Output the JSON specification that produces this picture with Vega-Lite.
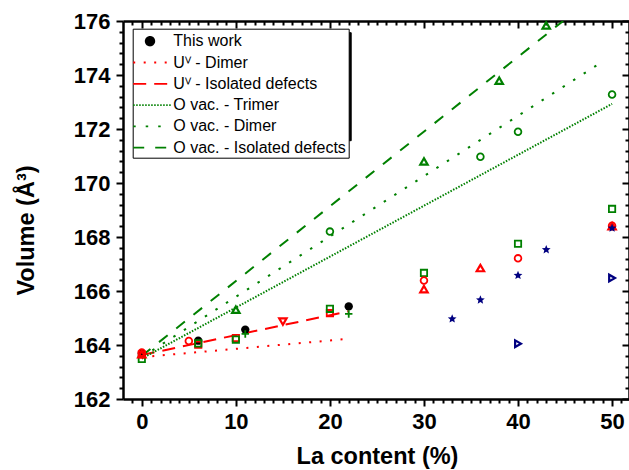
{
  "$schema": "https://vega.github.io/schema/vega-lite/v6.json",
  "width": 506,
  "height": 378,
  "autosize": {"type": "none"},
  "padding": {"left": 123, "top": 21, "right": 0, "bottom": 71},
  "background": "white",
  "config": {
    "font": "Liberation Sans",
    "view": {"stroke": null},
    "point": {"opacity": 1, "strokeWidth": 1.8},
    "line": {"strokeWidth": 2},
    "axis": {
      "grid": false, "domainColor": "black", "tickColor": "black", "domainWidth": 2.5, "tickWidth": 2,
      "labelFont": "Liberation Sans", "labelFontWeight": "bold", "labelFontSize": 22, "labelColor": "black",
      "titleFont": "Liberation Sans", "titleFontWeight": "bold", "titleFontSize": 23.5, "titleColor": "black",
      "labelFlush": false, "labelOverlap": false
    }
  },
  "datasets": {
    "lines": [
      {"series": "Uⱽ - Dimer", "x": 0, "y": 163.55},
      {"series": "Uⱽ - Dimer", "x": 21.7, "y": 164.22},
      {"series": "Uⱽ - Isolated defects", "x": 0, "y": 163.63},
      {"series": "Uⱽ - Isolated defects", "x": 22, "y": 165.25},
      {"series": "O vac. - Trimer", "x": 0, "y": 163.5},
      {"series": "O vac. - Trimer", "x": 50, "y": 172.93},
      {"series": "O vac. - Dimer", "x": 0, "y": 163.55},
      {"series": "O vac. - Dimer", "x": 49, "y": 174.5},
      {"series": "O vac. - Isolated defects", "x": 0, "y": 163.6},
      {"series": "O vac. - Isolated defects", "x": 44.8, "y": 176}
    ],
    "legendrows": [
      {"series": "This work"},
      {"series": "Uⱽ - Dimer"},
      {"series": "Uⱽ - Isolated defects"},
      {"series": "O vac. - Trimer"},
      {"series": "O vac. - Dimer"},
      {"series": "O vac. - Isolated defects"}
    ],
    "points": [
      {"s": "work", "x": 0, "y": 163.68},
      {"s": "work", "x": 6, "y": 164.16},
      {"s": "work", "x": 11, "y": 164.57},
      {"s": "work", "x": 22, "y": 165.43},
      {"s": "rs", "x": 0, "y": 163.65},
      {"s": "rs", "x": 6, "y": 164.01},
      {"s": "rs", "x": 10, "y": 164.26},
      {"s": "rs", "x": 20, "y": 165.18},
      {"s": "gs", "x": 0, "y": 163.48},
      {"s": "gs", "x": 6, "y": 164.06},
      {"s": "gs", "x": 10, "y": 164.2},
      {"s": "gs", "x": 20, "y": 165.34},
      {"s": "gs", "x": 30, "y": 166.67},
      {"s": "gs", "x": 40, "y": 167.75},
      {"s": "gs", "x": 50, "y": 169.04},
      {"s": "rc", "x": 0, "y": 163.72},
      {"s": "rc", "x": 5, "y": 164.15},
      {"s": "rc", "x": 30, "y": 166.39},
      {"s": "rc", "x": 40, "y": 167.21},
      {"s": "rc", "x": 50, "y": 168.42},
      {"s": "rt", "x": 0, "y": 163.66},
      {"s": "rt", "x": 30, "y": 166.07},
      {"s": "rt", "x": 36, "y": 166.85},
      {"s": "rt", "x": 50, "y": 168.4},
      {"s": "rd", "x": 15, "y": 164.87},
      {"s": "gp", "x": 11, "y": 164.41},
      {"s": "gp", "x": 22, "y": 165.15},
      {"s": "gt", "x": 10, "y": 165.31},
      {"s": "gt", "x": 30, "y": 170.8},
      {"s": "gt", "x": 38, "y": 173.79},
      {"s": "gt", "x": 43, "y": 175.84},
      {"s": "gc", "x": 20, "y": 168.2},
      {"s": "gc", "x": 36, "y": 170.97},
      {"s": "gc", "x": 40, "y": 171.9},
      {"s": "gc", "x": 50, "y": 173.28},
      {"s": "bs", "x": 33, "y": 164.97},
      {"s": "bs", "x": 36, "y": 165.67},
      {"s": "bs", "x": 40, "y": 166.58},
      {"s": "bs", "x": 43, "y": 167.53},
      {"s": "bs", "x": 50, "y": 168.33},
      {"s": "br", "x": 40, "y": 164.05},
      {"s": "br", "x": 50, "y": 166.48}
    ],
    "shadow": [
      {"k": "0"}, {"k": "1"}, {"k": "2"}, {"k": "3"}, {"k": "4"}, {"k": "5"}
    ]
  },
  "resolve": {"axis": {"x": "independent", "y": "independent"}},
  "layer": [
    {
      "data": {"name": "shadow"},
      "mark": {"type": "point", "opacity": 0},
      "encoding": {
        "opacity": {
          "field": "k", "type": "nominal",
          "scale": {"type": "ordinal", "domain": ["0", "1", "2", "3", "4", "5"], "range": [0, 0, 0, 0, 0, 0]},
          "legend": {
            "orient": "none", "legendX": 13.7, "legendY": 11.2, "title": null, "padding": 2, "rowPadding": 2.3,
            "fillColor": "black", "strokeColor": "black", "symbolType": "M-1,-1H21V0.779H-1Z", "symbolSize": 361,
            "symbolStrokeWidth": 2, "symbolOpacity": 0, "labelFont": "Liberation Sans", "labelFontSize": 16,
            "labelColor": "transparent", "labelOffset": 0, "labelLimit": 300,
            "labelExpr": "''"
          }
        }
      }
    },
    {
      "data": {"name": "lines"},
      "mark": {"type": "point", "opacity": 0},
      "encoding": {
        "x": {
          "field": "x", "type": "quantitative",
          "scale": {"domain": [-2, 51.8], "nice": false, "zero": false},
          "axis": {"orient": "bottom", "values": [0, 10, 20, 30, 40, 50], "tickSize": 7, "labelPadding": 5,
                   "title": "La content (%)", "titleY": 64, "titleBaseline": "alphabetic", "titleX": 254}
        },
        "y": {
          "field": "y", "type": "quantitative",
          "scale": {"domain": [162, 176], "nice": false, "zero": false},
          "axis": {"orient": "left", "values": [162, 164, 166, 168, 170, 172, 174, 176], "tickSize": 7, "labelPadding": 6,
                   "title": "Volume (Å³)", "titleAngle": 270, "titleX": -89.5, "titleY": 209,
                   "titleAlign": "center", "titleBaseline": "alphabetic"}
        }
      }
    },
    {
      "data": {"name": "lines"},
      "mark": {"type": "point", "opacity": 0},
      "encoding": {
        "x": {
          "field": "x", "type": "quantitative",
          "scale": {"domain": [-2, 51.8], "nice": false, "zero": false},
          "axis": {"orient": "bottom", "values": [-1, 1, 2, 3, 4, 5, 6, 7, 8, 9, 11, 12, 13, 14, 15, 16, 17, 18, 19, 21, 22, 23, 24, 25, 26, 27, 28, 29, 31, 32, 33, 34, 35, 36, 37, 38, 39, 41, 42, 43, 44, 45, 46, 47, 48, 49, 51],
                   "tickSize": 4, "labels": false, "domain": false, "title": null}
        },
        "y": {
          "field": "y", "type": "quantitative",
          "scale": {"domain": [162, 176], "nice": false, "zero": false},
          "axis": {"orient": "left", "values": [162.4, 162.8, 163.2, 163.6, 164.4, 164.8, 165.2, 165.6, 166.4, 166.8, 167.2, 167.6, 168.4, 168.8, 169.2, 169.6, 170.4, 170.8, 171.2, 171.6, 172.4, 172.8, 173.2, 173.6, 174.4, 174.8, 175.2, 175.6],
                   "tickSize": 4, "labels": false, "domain": false, "title": null}
        }
      }
    },
    {
      "data": {"name": "lines"},
      "mark": {"type": "point", "opacity": 0},
      "encoding": {
        "x": {
          "field": "x", "type": "quantitative",
          "scale": {"domain": [-2, 51.8], "nice": false, "zero": false},
          "axis": {"orient": "top", "values": [0, 10, 20, 30, 40, 50], "tickSize": -7, "labels": false, "title": null}
        },
        "y": {
          "field": "y", "type": "quantitative",
          "scale": {"domain": [162, 176], "nice": false, "zero": false},
          "axis": {"orient": "right", "values": [162, 164, 166, 168, 170, 172, 174, 176], "tickSize": -7, "labels": false, "title": null}
        }
      }
    },
    {
      "data": {"name": "lines"},
      "mark": {"type": "point", "opacity": 0},
      "encoding": {
        "x": {
          "field": "x", "type": "quantitative",
          "scale": {"domain": [-2, 51.8], "nice": false, "zero": false},
          "axis": {"orient": "top", "values": [-1, 1, 2, 3, 4, 5, 6, 7, 8, 9, 11, 12, 13, 14, 15, 16, 17, 18, 19, 21, 22, 23, 24, 25, 26, 27, 28, 29, 31, 32, 33, 34, 35, 36, 37, 38, 39, 41, 42, 43, 44, 45, 46, 47, 48, 49, 51],
                   "tickSize": -4, "labels": false, "domain": false, "title": null}
        },
        "y": {
          "field": "y", "type": "quantitative",
          "scale": {"domain": [162, 176], "nice": false, "zero": false},
          "axis": {"orient": "right", "values": [162.4, 162.8, 163.2, 163.6, 164.4, 164.8, 165.2, 165.6, 166.4, 166.8, 167.2, 167.6, 168.4, 168.8, 169.2, 169.6, 170.4, 170.8, 171.2, 171.6, 172.4, 172.8, 173.2, 173.6, 174.4, 174.8, 175.2, 175.6],
                   "tickSize": -4, "labels": false, "domain": false, "title": null}
        }
      }
    },
    {
      "data": {"name": "lines"},
      "transform": [{"filter": "datum.series === 'Uⱽ - Dimer'"}],
      "mark": {"type": "line", "color": "#ff0000", "strokeDash": [2, 8.5], "clip": true},
      "encoding": {
        "x": {"field": "x", "type": "quantitative", "scale": {"domain": [-2, 51.8], "nice": false, "zero": false}, "axis": null},
        "y": {"field": "y", "type": "quantitative", "scale": {"domain": [162, 176], "nice": false, "zero": false}, "axis": null}
      }
    },
    {
      "data": {"name": "lines"},
      "transform": [{"filter": "datum.series === 'Uⱽ - Isolated defects'"}],
      "mark": {"type": "line", "color": "#ff0000", "strokeDash": [13, 8], "clip": true},
      "encoding": {
        "x": {"field": "x", "type": "quantitative", "scale": {"domain": [-2, 51.8], "nice": false, "zero": false}, "axis": null},
        "y": {"field": "y", "type": "quantitative", "scale": {"domain": [162, 176], "nice": false, "zero": false}, "axis": null}
      }
    },
    {
      "data": {"name": "lines"},
      "transform": [{"filter": "datum.series === 'O vac. - Trimer'"}],
      "mark": {"type": "line", "color": "#008000", "strokeDash": [1.5, 1.5], "clip": true},
      "encoding": {
        "x": {"field": "x", "type": "quantitative", "scale": {"domain": [-2, 51.8], "nice": false, "zero": false}, "axis": null},
        "y": {"field": "y", "type": "quantitative", "scale": {"domain": [162, 176], "nice": false, "zero": false}, "axis": null}
      }
    },
    {
      "data": {"name": "lines"},
      "transform": [{"filter": "datum.series === 'O vac. - Dimer'"}],
      "mark": {"type": "line", "color": "#008000", "strokeDash": [2.5, 10], "clip": true},
      "encoding": {
        "x": {"field": "x", "type": "quantitative", "scale": {"domain": [-2, 51.8], "nice": false, "zero": false}, "axis": null},
        "y": {"field": "y", "type": "quantitative", "scale": {"domain": [162, 176], "nice": false, "zero": false}, "axis": null}
      }
    },
    {
      "data": {"name": "lines"},
      "transform": [{"filter": "datum.series === 'O vac. - Isolated defects'"}],
      "mark": {"type": "line", "color": "#008000", "strokeDash": [11, 11], "clip": true},
      "encoding": {
        "x": {"field": "x", "type": "quantitative", "scale": {"domain": [-2, 51.8], "nice": false, "zero": false}, "axis": null},
        "y": {"field": "y", "type": "quantitative", "scale": {"domain": [162, 176], "nice": false, "zero": false}, "axis": null}
      }
    },
    {
      "data": {"name": "points"},
      "transform": [{"filter": "datum.s === 'work'"}],
      "mark": {"type": "point", "shape": "circle", "filled": true, "color": "black", "size": 70},
      "encoding": {
        "x": {"field": "x", "type": "quantitative", "scale": {"domain": [-2, 51.8], "nice": false, "zero": false}, "axis": null},
        "y": {"field": "y", "type": "quantitative", "scale": {"domain": [162, 176], "nice": false, "zero": false}, "axis": null}
      }
    },
    {
      "data": {"name": "points"},
      "transform": [{"filter": "datum.s === 'rs'"}],
      "mark": {"type": "point", "shape": "square", "filled": false, "color": "#ff0000", "size": 40},
      "encoding": {
        "x": {"field": "x", "type": "quantitative", "scale": {"domain": [-2, 51.8], "nice": false, "zero": false}, "axis": null},
        "y": {"field": "y", "type": "quantitative", "scale": {"domain": [162, 176], "nice": false, "zero": false}, "axis": null}
      }
    },
    {
      "data": {"name": "points"},
      "transform": [{"filter": "datum.s === 'gs'"}],
      "mark": {"type": "point", "shape": "square", "filled": false, "color": "#008000", "size": 40},
      "encoding": {
        "x": {"field": "x", "type": "quantitative", "scale": {"domain": [-2, 51.8], "nice": false, "zero": false}, "axis": null},
        "y": {"field": "y", "type": "quantitative", "scale": {"domain": [162, 176], "nice": false, "zero": false}, "axis": null}
      }
    },
    {
      "data": {"name": "points"},
      "transform": [{"filter": "datum.s === 'rc'"}],
      "mark": {"type": "point", "shape": "circle", "filled": false, "color": "#ff0000", "size": 45},
      "encoding": {
        "x": {"field": "x", "type": "quantitative", "scale": {"domain": [-2, 51.8], "nice": false, "zero": false}, "axis": null},
        "y": {"field": "y", "type": "quantitative", "scale": {"domain": [162, 176], "nice": false, "zero": false}, "axis": null}
      }
    },
    {
      "data": {"name": "points"},
      "transform": [{"filter": "datum.s === 'rt'"}],
      "mark": {"type": "point", "shape": "triangle-up", "filled": false, "color": "#ff0000", "size": 55, "strokeWidth": 2.2},
      "encoding": {
        "x": {"field": "x", "type": "quantitative", "scale": {"domain": [-2, 51.8], "nice": false, "zero": false}, "axis": null},
        "y": {"field": "y", "type": "quantitative", "scale": {"domain": [162, 176], "nice": false, "zero": false}, "axis": null}
      }
    },
    {
      "data": {"name": "points"},
      "transform": [{"filter": "datum.s === 'rd'"}],
      "mark": {"type": "point", "shape": "triangle-down", "filled": false, "color": "#ff0000", "size": 55, "strokeWidth": 2.2},
      "encoding": {
        "x": {"field": "x", "type": "quantitative", "scale": {"domain": [-2, 51.8], "nice": false, "zero": false}, "axis": null},
        "y": {"field": "y", "type": "quantitative", "scale": {"domain": [162, 176], "nice": false, "zero": false}, "axis": null}
      }
    },
    {
      "data": {"name": "points"},
      "transform": [{"filter": "datum.s === 'gp'"}],
      "mark": {"type": "point", "shape": "M-1,0H1M0,-1V1", "filled": false, "color": "#008000", "size": 55},
      "encoding": {
        "x": {"field": "x", "type": "quantitative", "scale": {"domain": [-2, 51.8], "nice": false, "zero": false}, "axis": null},
        "y": {"field": "y", "type": "quantitative", "scale": {"domain": [162, 176], "nice": false, "zero": false}, "axis": null}
      }
    },
    {
      "data": {"name": "points"},
      "transform": [{"filter": "datum.s === 'gt'"}],
      "mark": {"type": "point", "shape": "triangle-up", "filled": false, "color": "#008000", "size": 55, "strokeWidth": 2.2},
      "encoding": {
        "x": {"field": "x", "type": "quantitative", "scale": {"domain": [-2, 51.8], "nice": false, "zero": false}, "axis": null},
        "y": {"field": "y", "type": "quantitative", "scale": {"domain": [162, 176], "nice": false, "zero": false}, "axis": null}
      }
    },
    {
      "data": {"name": "points"},
      "transform": [{"filter": "datum.s === 'gc'"}],
      "mark": {"type": "point", "shape": "circle", "filled": false, "color": "#008000", "size": 45},
      "encoding": {
        "x": {"field": "x", "type": "quantitative", "scale": {"domain": [-2, 51.8], "nice": false, "zero": false}, "axis": null},
        "y": {"field": "y", "type": "quantitative", "scale": {"domain": [162, 176], "nice": false, "zero": false}, "axis": null}
      }
    },
    {
      "data": {"name": "points"},
      "transform": [{"filter": "datum.s === 'bs'"}],
      "mark": {"type": "point", "shape": "M0,-1L0.265,-0.364L0.951,-0.309L0.428,0.139L0.588,0.809L0,0.45L-0.588,0.809L-0.428,0.139L-0.951,-0.309L-0.265,-0.364Z", "filled": true, "color": "#000080", "size": 85},
      "encoding": {
        "x": {"field": "x", "type": "quantitative", "scale": {"domain": [-2, 51.8], "nice": false, "zero": false}, "axis": null},
        "y": {"field": "y", "type": "quantitative", "scale": {"domain": [162, 176], "nice": false, "zero": false}, "axis": null}
      }
    },
    {
      "data": {"name": "points"},
      "transform": [{"filter": "datum.s === 'br'"}],
      "mark": {"type": "point", "shape": "triangle-right", "filled": false, "color": "#000080", "size": 45, "strokeWidth": 2.2},
      "encoding": {
        "x": {"field": "x", "type": "quantitative", "scale": {"domain": [-2, 51.8], "nice": false, "zero": false}, "axis": null},
        "y": {"field": "y", "type": "quantitative", "scale": {"domain": [162, 176], "nice": false, "zero": false}, "axis": null}
      }
    },
    {
      "data": {"name": "legendrows"},
      "mark": {"type": "point", "opacity": 0},
      "encoding": {
        "shape": {
          "field": "series", "type": "nominal",
          "scale": {"domain": ["This work", "Uⱽ - Dimer", "Uⱽ - Isolated defects", "O vac. - Trimer", "O vac. - Dimer", "O vac. - Isolated defects"],
                    "range": ["M0.955,0A0.45,0.45,0,1,1,0.055,0A0.45,0.45,0,1,1,0.955,0Z", "M-1.263,0H2.684", "M-1.263,0H2.684", "M-1.263,0H2.684", "M-1.263,0H2.684", "M-1.263,0H2.684"]},
          "legend": {
            "orient": "none", "legendX": 9.7, "legendY": 7.7, "title": null, "padding": 2, "rowPadding": 2.3,
            "fillColor": "white", "strokeColor": "black", "symbolSize": 361, "symbolStrokeWidth": 2, "symbolOpacity": 1,
            "labelFont": "Liberation Sans", "labelFontSize": 16, "labelColor": "black", "labelOffset": 17.6, "labelLimit": 300
          }
        },
        "stroke": {
          "field": "series", "type": "nominal",
          "scale": {"domain": ["This work", "Uⱽ - Dimer", "Uⱽ - Isolated defects", "O vac. - Trimer", "O vac. - Dimer", "O vac. - Isolated defects"],
                    "range": ["black", "#ff0000", "#ff0000", "#008000", "#008000", "#008000"]},
          "legend": {
            "orient": "none", "legendX": 9.7, "legendY": 7.7, "title": null, "padding": 2, "rowPadding": 2.3,
            "fillColor": "white", "strokeColor": "black", "symbolSize": 361, "symbolStrokeWidth": 2, "symbolOpacity": 1,
            "labelFont": "Liberation Sans", "labelFontSize": 16, "labelColor": "black", "labelOffset": 17.6, "labelLimit": 300
          }
        },
        "fill": {
          "field": "series", "type": "nominal",
          "scale": {"domain": ["This work", "Uⱽ - Dimer", "Uⱽ - Isolated defects", "O vac. - Trimer", "O vac. - Dimer", "O vac. - Isolated defects"],
                    "range": ["black", "transparent", "transparent", "transparent", "transparent", "transparent"]},
          "legend": {
            "orient": "none", "legendX": 9.7, "legendY": 7.7, "title": null, "padding": 2, "rowPadding": 2.3,
            "fillColor": "white", "strokeColor": "black", "symbolSize": 361, "symbolStrokeWidth": 2, "symbolOpacity": 1,
            "labelFont": "Liberation Sans", "labelFontSize": 16, "labelColor": "black", "labelOffset": 17.6, "labelLimit": 300
          }
        },
        "strokeDash": {
          "field": "series", "type": "nominal",
          "scale": {"domain": ["This work", "Uⱽ - Dimer", "Uⱽ - Isolated defects", "O vac. - Trimer", "O vac. - Dimer", "O vac. - Isolated defects"],
                    "range": [[1, 0], [2, 8.5], [13, 8], [1.5, 1.5], [2.5, 10], [11, 11]]},
          "legend": {
            "orient": "none", "legendX": 9.7, "legendY": 7.7, "title": null, "padding": 2, "rowPadding": 2.3,
            "fillColor": "white", "strokeColor": "black", "symbolSize": 361, "symbolStrokeWidth": 2, "symbolOpacity": 1,
            "labelFont": "Liberation Sans", "labelFontSize": 16, "labelColor": "black", "labelOffset": 17.6, "labelLimit": 300
          }
        }
      }
    }
  ]
}
